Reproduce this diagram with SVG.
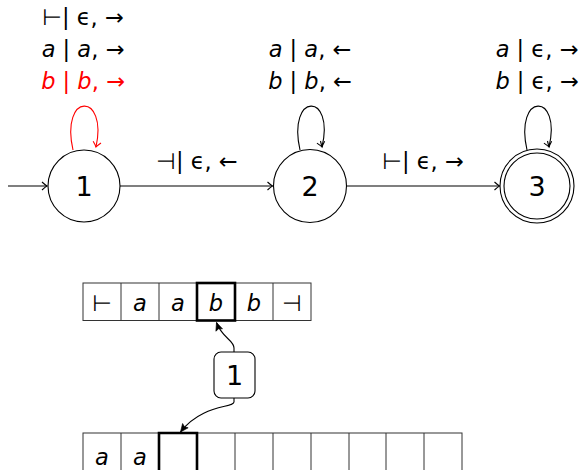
<svg xmlns="http://www.w3.org/2000/svg" width="582" height="470" viewBox="0 0 582 470">
<style>
.st{fill:#fff;stroke:#000;stroke-width:1.1}
.lbl{font-family:"DejaVu Sans","Noto Sans",sans-serif;font-size:22.5px;text-anchor:middle;fill:#000}
.num{font-family:"DejaVu Sans","Noto Sans",sans-serif;font-size:27px;text-anchor:middle;fill:#000}
.it{font-style:italic}
.red{fill:#ff0000}
.edge{fill:none;stroke:#000;stroke-width:1.1}
.cell{fill:#fff;stroke:#333;stroke-width:1}
.bold{fill:none;stroke:#000;stroke-width:2.6}
</style>
<defs>
<marker id="to" markerUnits="userSpaceOnUse" markerWidth="12" markerHeight="12" refX="0" refY="0" viewBox="-6 -6 12 12" orient="auto" overflow="visible">
<path d="M-5,-4 Q-1.5,-0.8 0,0 Q-1.5,0.8 -5,4" fill="none" stroke="#000" stroke-width="1.1"/>
</marker>
<marker id="tored" markerUnits="userSpaceOnUse" markerWidth="12" markerHeight="12" refX="0" refY="0" viewBox="-6 -6 12 12" orient="auto" overflow="visible">
<path d="M-5,-4 Q-1.5,-0.8 0,0 Q-1.5,0.8 -5,4" fill="none" stroke="#ff0000" stroke-width="1.1"/>
</marker>
<marker id="tri" markerUnits="userSpaceOnUse" markerWidth="12" markerHeight="12" refX="0" refY="0" viewBox="-10 -6 12 12" orient="auto" overflow="visible">
<path d="M-8,-3.5 L0,0 L-8,3.5 L-6.5,0 Z" fill="#000" stroke="#000" stroke-width="0.6"/>
</marker>
</defs>

<g id="connectors">
<path class="edge" d="M8,186 L47,186" marker-end="url(#to)"/>
<path class="edge" d="M120,186 L272.5,186" marker-end="url(#to)"/>
<path class="edge" d="M346.5,186 L499.5,186" marker-end="url(#to)"/>
<path d="M73,150 C60,92 108,92 96,147" fill="none" stroke="#ff0000" stroke-width="1.1" marker-end="url(#tored)"/>
<path class="edge" d="M300,150 C287,92 335,92 322,147"/>
<path class="edge" d="M320.5,141 L322,147" marker-end="url(#to)"/>
<path class="edge" d="M527,150 C514,92 562,92 549,147"/>
<path class="edge" d="M547.5,141 L549,147" marker-end="url(#to)"/>
<path class="edge" d="M234,352 L234,348 C234,340 222,338 216.5,322.5" marker-end="url(#tri)"/>
<path class="edge" d="M234,398 L234,402 C234,408 202,404 180.5,432" marker-end="url(#tri)"/>
</g>

<g id="label-1to2"><text class="lbl" x="197" y="169">⊣| ϵ, ←</text></g>
<g id="label-2to3"><text class="lbl" x="423" y="169">⊢| ϵ, →</text></g>

<g id="loop1-labels">
<text class="lbl" x="83" y="25">⊢| ϵ, →</text>
<text class="lbl" x="83" y="57"><tspan class="it">a</tspan> | <tspan class="it">a</tspan>, →</text>
<text class="lbl red" x="83" y="89"><tspan class="it">b</tspan> | <tspan class="it">b</tspan>, →</text>
</g>
<g id="loop2-labels">
<text class="lbl" x="310" y="57"><tspan class="it">a</tspan> | <tspan class="it">a</tspan>, ←</text>
<text class="lbl" x="310" y="89"><tspan class="it">b</tspan> | <tspan class="it">b</tspan>, ←</text>
</g>
<g id="loop3-labels">
<text class="lbl" x="537" y="57"><tspan class="it">a</tspan> | ϵ, →</text>
<text class="lbl" x="537" y="89"><tspan class="it">b</tspan> | ϵ, →</text>
</g>

<g id="state1">
<circle class="st" cx="84" cy="186" r="36"/>
<text class="num" x="84" y="196">1</text>
</g>
<g id="state2">
<circle class="st" cx="310" cy="186" r="36.5"/>
<text class="num" x="310" y="196">2</text>
</g>
<g id="state3">
<circle class="st" cx="537" cy="186" r="37"/>
<circle class="st" cx="537" cy="186" r="33"/>
<text class="num" x="537" y="196">3</text>
</g>

<g id="tape1">
<rect class="cell" x="83" y="283" width="228" height="37.5"/>
<path d="M121,283V320.5M159,283V320.5M197,283V320.5M235,283V320.5M273,283V320.5" stroke="#333" stroke-width="1"/>
<rect class="bold" x="197" y="283" width="38" height="37.5"/>
<text class="lbl" x="102" y="311">⊢</text>
<text class="lbl it" x="140" y="311">a</text>
<text class="lbl it" x="178" y="311">a</text>
<text class="lbl it" x="216" y="311">b</text>
<text class="lbl it" x="254" y="311">b</text>
<text class="lbl" x="292" y="311">⊣</text>
</g>

<g id="head">
<rect x="214" y="352" width="41" height="46" rx="7" fill="#fff" stroke="#000" stroke-width="1.1"/>
<text class="num" x="234.5" y="385">1</text>
</g>

<g id="tape2">
<rect class="cell" x="83" y="433" width="379" height="45"/>
<path d="M121,433V470M159,433V470M197,433V470M235,433V470M273,433V470M311,433V470M349,433V470M386,433V470M424,433V470" stroke="#333" stroke-width="1"/>
<path class="bold" d="M159,471V433H197V471"/>
<text class="lbl it" x="102" y="465">a</text>
<text class="lbl it" x="140" y="465">a</text>
</g>
</svg>
